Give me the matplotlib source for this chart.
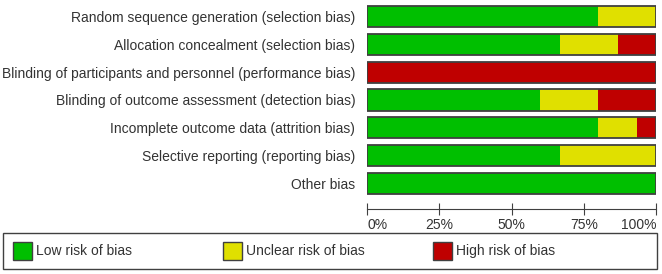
import matplotlib.pyplot as plt
from matplotlib.patches import Rectangle

plt.rcParams['font.family'] = ['Liberation Sans', 'DejaVu Sans']

domains = ["Random sequence generation (selection bias)",
           "Allocation concealment (selection bias)",
           "Blinding of participants and personnel (performance bias)",
           "Blinding of outcome assessment (detection bias)",
           "Incomplete outcome data (attrition bias)",
           "Selective reporting (reporting bias)",
           "Other bias"]
low = [80.0, 66.7, 0.0, 60.0, 80.0, 66.7, 100.0]
unclear = [20.0, 20.0, 0.0, 20.0, 13.3, 33.3, 0.0]
high = [0.0, 13.3, 100.0, 20.0, 6.7, 0.0, 0.0]
ticks = [0, 25, 50, 75, 100]
tick_labels = ["0%", "25%", "50%", "75%", "100%"]
legend_labels = ["Low risk of bias", "Unclear risk of bias", "High risk of bias"]
colors = ["#00bf00", "#e0e000", "#bf0000"]
txt = "#333333"
fs = 10

W, H = 662, 274
fig = plt.figure(figsize=(W / 100, H / 100), dpi=100)
ax = fig.add_axes([367 / W, 1 - 209 / H, 289 / W, (209 - 2.6) / H])

y = list(range(len(domains)))
ax.barh(y, low, height=0.755, color=colors[0], linewidth=0)
ax.barh(y, unclear, left=low, height=0.755, color=colors[1], linewidth=0)
left2 = [a + b for a, b in zip(low, unclear)]
ax.barh(y, high, left=left2, height=0.755, color=colors[2], linewidth=0)
totals = [a + b + c for a, b, c in zip(low, unclear, high)]
ax.barh(y, totals, height=0.755, fill=False, edgecolor="#404040", linewidth=1.3)

ax.set_xlim(0, 100)
ax.set_ylim(len(domains) - 1 + 0.917, -0.5)
ax.set_yticks(y)
ax.set_yticklabels(domains, fontsize=fs, color=txt)
ax.tick_params(axis="y", length=0, pad=8.5)
for s in ["top", "left", "right"]:
    ax.spines[s].set_visible(False)
ax.spines["bottom"].set_color("#404040")
ax.set_xticks(ticks)
ax.set_xticklabels(tick_labels, fontsize=fs, color=txt)
ax.tick_params(axis="x", direction="inout", length=8, color="#404040", pad=2.5)
lbls = ax.get_xticklabels()
lbls[0].set_ha("left")
lbls[-1].set_ha("right")

# legend box
fig.patches.append(Rectangle((3 / W, 1 - 269 / H), 654 / W, 36 / H,
                             transform=fig.transFigure, fill=False,
                             edgecolor="#404040", linewidth=1.0))
xs = [13, 223, 433]
for x0, lab, c in zip(xs, legend_labels, colors):
    fig.patches.append(Rectangle((x0 / W, 1 - 260 / H), 19 / W, 18 / H,
                                 transform=fig.transFigure, facecolor=c,
                                 edgecolor="#404040", linewidth=1.0))
    fig.text((x0 + 23) / W, 1 - 251 / H, lab, fontsize=fs, color=txt,
             va="center", ha="left")

fig.savefig("out.png", dpi=100)
